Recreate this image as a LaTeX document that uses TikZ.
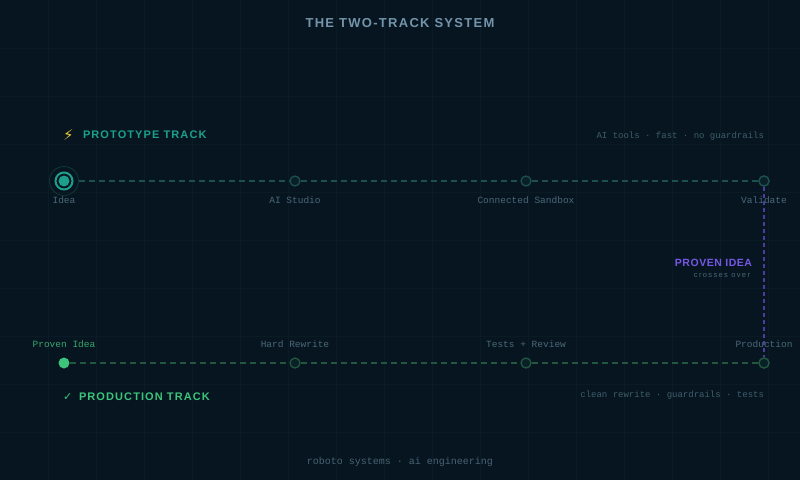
\documentclass[tikz,border=0pt]{standalone}
\usepackage{fontspec}
\setmainfont{Liberation Sans}
\newfontfamily\headf[LetterSpace=10]{Liberation Sans}
\newfontfamily\propf[LetterSpace=5]{Liberation Sans}
\newfontfamily\smallf[LetterSpace=18]{Liberation Sans}
\newfontfamily\monof{Liberation Mono}
\newfontfamily\symf{DejaVu Sans}
\definecolor{bg}{HTML}{061520}
\definecolor{gridc}{HTML}{0A1B26}
\definecolor{titlec}{HTML}{7394AA}
\definecolor{teal}{HTML}{1CA08C}
\definecolor{tealdim}{HTML}{1D4F4D}
\definecolor{tealfaint}{HTML}{0F3236}
\definecolor{greenc}{HTML}{3CC47A}
\definecolor{greendim}{HTML}{22563F}
\definecolor{greenlab}{HTML}{37A56C}
\definecolor{purplec}{HTML}{7758E6}
\definecolor{purpledim}{HTML}{4A3CA0}
\definecolor{labc}{HTML}{4A6878}
\definecolor{notec}{HTML}{3E5E6A}
\definecolor{footc}{HTML}{4A6272}
\definecolor{nodefill}{HTML}{0A2027}
\definecolor{boltc}{HTML}{E8C53A}
\begin{document}
\begin{tikzpicture}[x=1pt,y=-1pt,
  txt/.style={inner sep=0pt,outer sep=0pt},
  lab/.style={txt,font=\monof\fontsize{9.5}{11}\selectfont,text=labc},
  note/.style={txt,font=\monof\fontsize{9}{11}\selectfont,text=notec,anchor=east},
  track/.style={txt,font=\headf\bfseries\fontsize{11}{13}\selectfont,anchor=west},
  pstop/.style={circle,draw=tealdim,fill=nodefill,line width=1.3pt,minimum size=10pt,inner sep=0pt},
  qstop/.style={circle,draw=greendim,fill=nodefill,line width=1.3pt,minimum size=10pt,inner sep=0pt},
  pline/.style={draw=tealdim,line width=1.5pt,dash pattern=on 6pt off 4pt},
  qline/.style={draw=greendim,line width=1.5pt,dash pattern=on 6pt off 4pt},
  xline/.style={draw=purpledim,line width=1.5pt,dash pattern=on 4pt off 3pt}]
\fill[bg] (0,0) rectangle (800,480);
\useasboundingbox (0,0) rectangle (800,480);
\foreach \g in {48,96,...,768} \draw[gridc,line width=0.6pt] (\g,0) -- (\g,480);
\foreach \g in {48,96,...,432} \draw[gridc,line width=0.6pt] (0,\g) -- (800,\g);

% title
\node[txt,font=\headf\bfseries\fontsize{13}{15}\selectfont,text=titlec] (title) at (400,23) {THE TWO-TRACK SYSTEM};

% prototype track
\node[txt,anchor=west,font=\symf\fontsize{15}{16}\selectfont,text=boltc] (bolt) at (63,135) {⚡};
\node[track,text=teal] (ptitle) at (83,135) {PROTOTYPE TRACK};
\node[note] (pnote) at (764,136) {AI tools · fast · no guardrails};

\node[circle,draw=teal,fill=bg,line width=2pt,minimum size=17pt,inner sep=0pt,outer sep=6pt] (p1) at (64,181) {};
\draw[tealfaint,line width=1pt] (p1.center) circle (14.5);
\fill[teal] (p1.center) circle (5.5);
\node[pstop] (p2) at (295,181) {};
\node[pstop] (p3) at (526,181) {};
\node[pstop] (p4) at (764,181) {};
\path[pline] (p1) -- (p2);
\path[pline] (p2) -- (p3);
\path[pline] (p3) -- (p4);

\node[lab] (l1) at (64,200) {Idea};
\node[lab] (l2) at (295,200) {AI Studio};
\node[lab] (l3) at (526,200) {Connected Sandbox};
\node[lab] (l4) at (764,200) {Validate};

% production track
\node[circle,fill=greenc,minimum size=11pt,inner sep=0pt] (q1) at (64,363) {};
\node[qstop] (q2) at (295,363) {};
\node[qstop] (q3) at (526,363) {};
\node[qstop] (q4) at (764,363) {};
\path[qline] (q1) -- (q2);
\path[qline] (q2) -- (q3);
\path[qline] (q3) -- (q4);

% crossing
\path[xline] (p4) -- (q4);
\node[pstop] at (p4) {};
\node[qstop] at (q4) {};
\node[txt,anchor=east,font=\propf\bfseries\fontsize{10.5}{12}\selectfont,text=purplec] (cross) at (752,263) {PROVEN IDEA};
\node[txt,anchor=east,font=\smallf\fontsize{7.5}{9}\selectfont,text=labc] (crossn) at (750,275.5) {crosses over};

\node[lab,text=greenlab] (m1) at (64,344) {Proven Idea};
\node[lab] (m2) at (295,344) {Hard Rewrite};
\node[lab] (m3) at (526,344) {Tests + Review};
\node[lab] (m4) at (764,344) {Production};

\node[txt,anchor=west,font=\symf\bfseries\fontsize{11}{12}\selectfont,text=greenc] (check) at (63,397) {✓};
\node[track,text=greenc] (qtitle) at (79,397) {PRODUCTION TRACK};
\node[note] (qnote) at (764,395) {clean rewrite · guardrails · tests};

\node[txt,font=\monof\fontsize{10}{12}\selectfont,text=footc] (foot) at (400,462) {roboto systems · ai engineering};
\end{tikzpicture}
\end{document}
